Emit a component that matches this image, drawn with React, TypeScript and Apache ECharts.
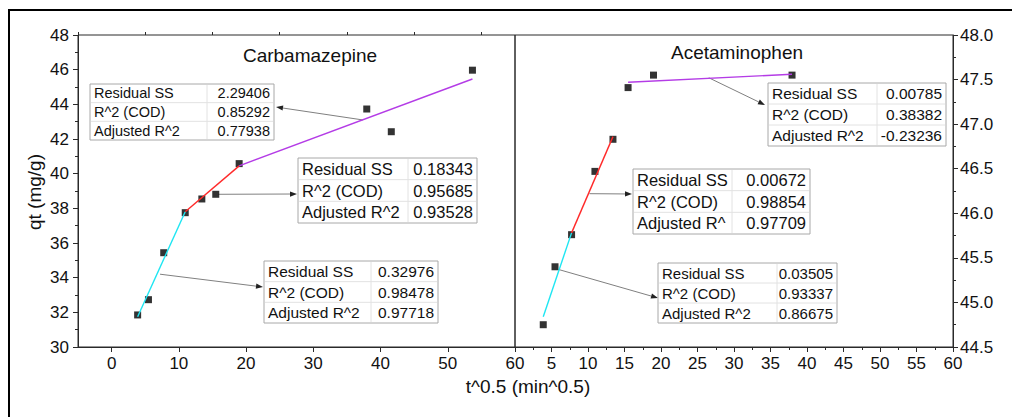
import { useEffect, useRef } from "react";
import * as echarts from "echarts";

// Square root of contact time (min^0.5)
const sqrtTime = [3.87, 5.48, 7.75, 10.95, 13.42, 15.49, 18.97, 37.95, 41.6, 53.67];
// Adsorbed amount qt (mg/g)
const carbamazepineQt = [31.85, 32.73, 35.44, 37.75, 38.54, 38.81, 40.58, 43.73, 42.42, 45.97];
const acetaminophenQt = [44.75, 45.4, 45.76, 46.47, 46.83, 47.41, 47.55, 47.55];

// Intra-particle diffusion fits, one segment per stage: [start, end]
const cbzFitStage1 = [[3.87, 31.75], [10.95, 37.8]];
const cbzFitStage2 = [[10.95, 37.8], [18.97, 40.45]];
const cbzFitStage3 = [[18.97, 40.45], [53.67, 45.46]];
const acmFitStage1 = [[3.87, 44.84], [7.75, 45.78]];
const acmFitStage2 = [[7.75, 45.78], [13.42, 46.86]];
const acmFitStage3 = [[15.49, 47.47], [37.95, 47.56]];

// Fit statistics
const statLabels = ["Residual SS", "R^2 (COD)", "Adjusted R^2"];
const statLabelsShort = ["Residual SS", "R^2 (COD)", "Adjusted R^"];
const cbzStats1 = ["0.32976", "0.98478", "0.97718"];
const cbzStats2 = ["0.18343", "0.95685", "0.93528"];
const cbzStats3 = ["2.29406", "0.85292", "0.77938"];
const acmStats1 = ["0.03505", "0.93337", "0.86675"];
const acmStats2 = ["0.00672", "0.98854", "0.97709"];
const acmStats3 = ["0.00785", "0.38382", "-0.23236"];

// Axis ticks
const cbzXMajor = [0, 10, 20, 30, 40, 50, 60];
const cbzXMinor = [-5, 5, 15, 25, 35, 45, 55];

const FONT = "'Liberation Sans', Arial, sans-serif";
const AXIS_COLOR = "#2a2a2a";
const CYAN = "#1fe6f2";
const RED = "#ff2a2a";
const PURPLE = "#b43ce6";

type Table = {
  x: number; y: number; w: number; h: number; split: number; fontSize: number;
  labels: string[]; values: string[];
};

function tableGraphic(t: Table) {
  const rowH = t.h / 3;
  const children: any[] = [
    { type: "rect", shape: { x: 0, y: 0, width: t.w, height: t.h }, style: { fill: "#fff", stroke: "#a8a8a8", lineWidth: 1 } },
    { type: "line", shape: { x1: 1, y1: rowH, x2: t.w - 1, y2: rowH }, style: { stroke: "#e2e2e2", lineWidth: 1 } },
    { type: "line", shape: { x1: 1, y1: rowH * 2, x2: t.w - 1, y2: rowH * 2 }, style: { stroke: "#e2e2e2", lineWidth: 1 } },
    { type: "line", shape: { x1: t.split, y1: 1, x2: t.split, y2: t.h - 1 }, style: { stroke: "#e2e2e2", lineWidth: 1 } },
  ];
  for (let i = 0; i < 3; i++) {
    const cy = rowH * (i + 0.5);
    children.push({
      type: "text", x: 4, y: cy,
      style: { text: t.labels[i], fontSize: t.fontSize, fontFamily: FONT, fill: "#111", align: "left", verticalAlign: "middle" },
    });
    children.push({
      type: "text", x: t.w - 4, y: cy,
      style: { text: t.values[i], fontSize: t.fontSize, fontFamily: FONT, fill: "#111", align: "right", verticalAlign: "middle" },
    });
  }
  return { type: "group", x: t.x, y: t.y, z: 20, children };
}

function arrowGraphic(from: number[], to: number[]) {
  const dx = to[0] - from[0];
  const dy = to[1] - from[1];
  const len = Math.hypot(dx, dy) || 1;
  const ux = dx / len, uy = dy / len;
  const nx = -uy, ny = ux;
  const head = 7, half = 2.6;
  const bx = to[0] - ux * head, by = to[1] - uy * head;
  return {
    type: "group", z: 15,
    children: [
      { type: "line", shape: { x1: from[0], y1: from[1], x2: bx, y2: by }, style: { stroke: "#808080", lineWidth: 1 } },
      {
        type: "polygon",
        shape: { points: [[to[0], to[1]], [bx + nx * half, by + ny * half], [bx - nx * half, by - ny * half]] },
        style: { fill: "#222" },
      },
    ],
  };
}

function fitSeries(data: number[][], color: string, xi: number, yi: number) {
  return {
    type: "line", xAxisIndex: xi, yAxisIndex: yi, data, symbol: "none", z: 4,
    lineStyle: { color, width: 1.4 }, silent: true,
  };
}

const tickLabel = { color: "#111", fontSize: 17, fontFamily: FONT };
const axisLine = { show: true, onZero: false, lineStyle: { color: AXIS_COLOR } };

export default function App() {
  const ref = useRef<HTMLDivElement>(null);

  useEffect(() => {
    if (!ref.current) return;
    const chart = echarts.init(ref.current, undefined, { renderer: "svg" });

    chart.setOption({
      animation: false,
      backgroundColor: "#fff",
      grid: [
        { left: 78, top: 35, width: 437, height: 312, show: true, borderColor: AXIS_COLOR, borderWidth: 1 },
        { left: 515, top: 35, width: 438, height: 312, show: true, borderColor: AXIS_COLOR, borderWidth: 1 },
      ],
      xAxis: [
        {
          type: "value", gridIndex: 0, min: -5, max: 60,
          axisLine,
          axisTick: { length: 5, lineStyle: { color: AXIS_COLOR }, customValues: cbzXMajor },
          axisLabel: { ...tickLabel, margin: 8, customValues: cbzXMajor },
          splitLine: { show: false },
        },
        {
          type: "value", gridIndex: 1, min: 0, max: 60, interval: 5,
          axisLine,
          axisTick: { length: 5, lineStyle: { color: AXIS_COLOR } },
          minorTick: { show: true, splitNumber: 2, length: 3, lineStyle: { color: AXIS_COLOR } },
          axisLabel: { ...tickLabel, margin: 8, showMinLabel: false },
          splitLine: { show: false },
        },
        {
          type: "value", gridIndex: 0, min: -5, max: 60,
          axisLine: { show: false, onZero: false },
          axisTick: { length: 3, lineStyle: { color: AXIS_COLOR }, customValues: cbzXMinor },
          axisLabel: { show: false, customValues: cbzXMinor },
          splitLine: { show: false },
        },
      ],
      yAxis: [
        {
          type: "value", gridIndex: 0, min: 30, max: 48, interval: 2,
          axisLine,
          axisTick: { show: true, length: 5, lineStyle: { color: AXIS_COLOR } },
          minorTick: { show: true, splitNumber: 2, length: 3, lineStyle: { color: AXIS_COLOR } },
          axisLabel: { ...tickLabel, margin: 9 },
          splitLine: { show: false },
        },
        {
          type: "value", gridIndex: 1, position: "right", min: 44.5, max: 48, interval: 0.5,
          axisLine,
          axisTick: { show: true, length: 5, lineStyle: { color: AXIS_COLOR } },
          minorTick: { show: true, splitNumber: 2, length: 3, lineStyle: { color: AXIS_COLOR } },
          axisLabel: { ...tickLabel, margin: 7, formatter: (v: number) => v.toFixed(1) },
          splitLine: { show: false },
        },
      ],
      series: [
        fitSeries(cbzFitStage1, CYAN, 0, 0),
        fitSeries(cbzFitStage2, RED, 0, 0),
        fitSeries(cbzFitStage3, PURPLE, 0, 0),
        fitSeries(acmFitStage1, CYAN, 1, 1),
        fitSeries(acmFitStage2, RED, 1, 1),
        fitSeries(acmFitStage3, PURPLE, 1, 1),
        {
          name: "Carbamazepine", type: "scatter", xAxisIndex: 0, yAxisIndex: 0, z: 3,
          symbol: "rect", symbolSize: 7, itemStyle: { color: "#000" },
          data: carbamazepineQt.map((q, i) => [sqrtTime[i], q]),
        },
        {
          name: "Acetaminophen", type: "scatter", xAxisIndex: 1, yAxisIndex: 1, z: 3,
          symbol: "rect", symbolSize: 7, itemStyle: { color: "#000" },
          data: acetaminophenQt.map((q, i) => [sqrtTime[i], q]),
        },
      ],
    });

    const leftPx = (p: number[]) => chart.convertToPixel({ xAxisIndex: 0, yAxisIndex: 0 }, p) as number[];
    const rightPx = (p: number[]) => chart.convertToPixel({ xAxisIndex: 1, yAxisIndex: 1 }, p) as number[];

    chart.setOption({
      graphic: [
        // outer frame
        { type: "line", z: 30, shape: { x1: 8, y1: 10, x2: 1012, y2: 10 }, style: { stroke: "#000", lineWidth: 2 } },
        { type: "line", z: 30, shape: { x1: 9, y1: 9, x2: 9, y2: 417 }, style: { stroke: "#000", lineWidth: 2 } },
        // panel titles
        { type: "text", x: 310, y: 55, style: { text: "Carbamazepine", fontSize: 19, fontFamily: FONT, fill: "#111", align: "center", verticalAlign: "middle" } },
        { type: "text", x: 737, y: 52, style: { text: "Acetaminophen", fontSize: 19, fontFamily: FONT, fill: "#111", align: "center", verticalAlign: "middle" } },
        // axis titles
        { type: "text", x: 34, y: 192, rotation: Math.PI / 2, style: { text: "qt (mg/g)", fontSize: 19, fontFamily: FONT, fill: "#111", align: "center", verticalAlign: "middle" } },
        { type: "text", x: 528, y: 386, style: { text: "t^0.5 (min^0.5)", fontSize: 19, fontFamily: FONT, fill: "#111", align: "center", verticalAlign: "middle" } },
        // callouts
        arrowGraphic(leftPx([37.35, 43.1]), [276, 107]),
        arrowGraphic(leftPx([15.9, 38.81]), [297, 194]),
        arrowGraphic(leftPx([7.2, 34.2]), [263, 287]),
        arrowGraphic(rightPx([26.55, 47.52]), [765, 105]),
        arrowGraphic(rightPx([10.2, 46.22]), [632, 194]),
        arrowGraphic(rightPx([5.95, 45.37]), [658, 298]),
        // fit statistics tables
        tableGraphic({ x: 90, y: 84, w: 184, h: 56, split: 117, fontSize: 14.5, labels: statLabels, values: cbzStats3 }),
        tableGraphic({ x: 298, y: 158, w: 179, h: 65, split: 110, fontSize: 16.5, labels: statLabels, values: cbzStats2 }),
        tableGraphic({ x: 264, y: 261, w: 174, h: 62, split: 107, fontSize: 15.5, labels: statLabels, values: cbzStats1 }),
        tableGraphic({ x: 768, y: 83, w: 178, h: 63, split: 109, fontSize: 15.5, labels: statLabels, values: acmStats3 }),
        tableGraphic({ x: 633, y: 169, w: 177, h: 65, split: 99, fontSize: 16.5, labels: statLabelsShort, values: acmStats2 }),
        tableGraphic({ x: 658, y: 263, w: 179, h: 60, split: 119, fontSize: 15, labels: statLabels, values: acmStats1 }),
      ],
    });

    return () => chart.dispose();
  }, []);

  return <div ref={ref} style={{ position: "fixed", left: 0, top: 0, width: 1012, height: 417 }} />;
}
